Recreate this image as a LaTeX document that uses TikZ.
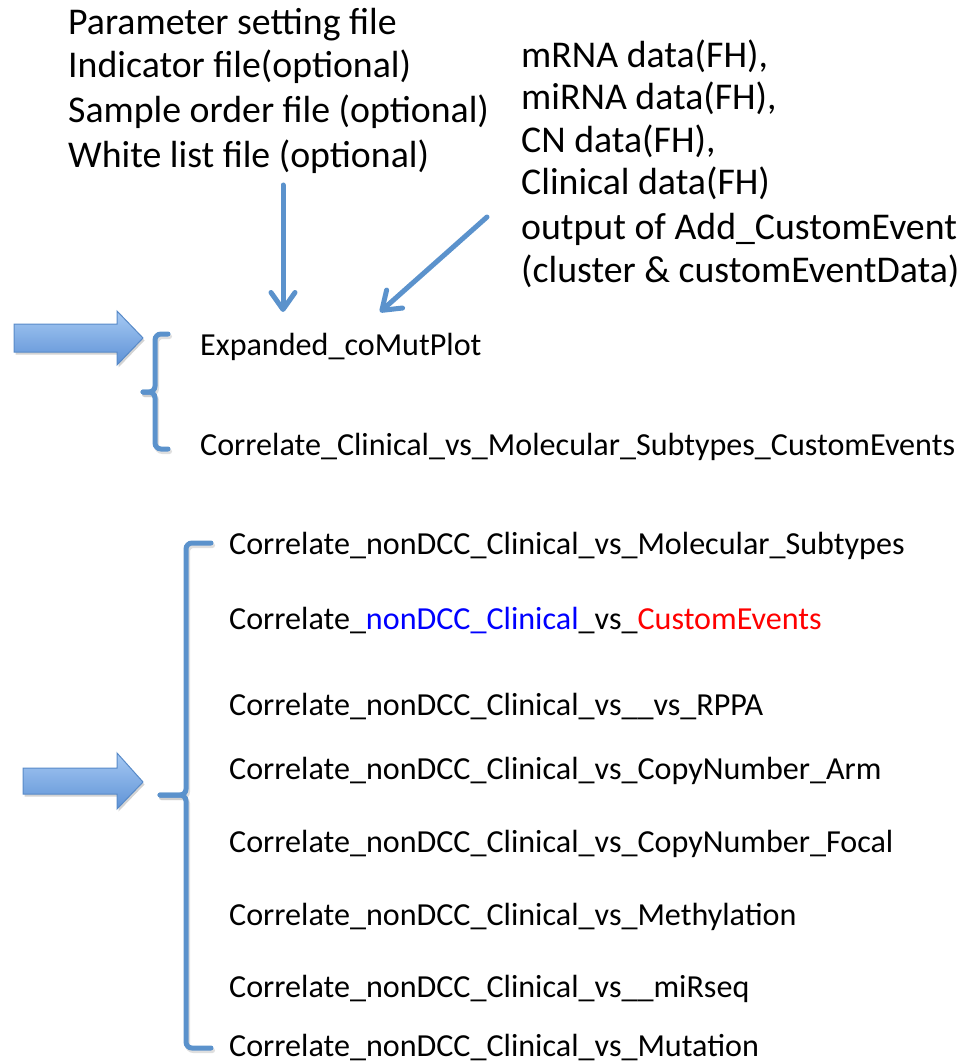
\documentclass[tikz,border=0pt]{standalone}
\usepackage{fontspec}
\setmainfont{Carlito}
\usetikzlibrary{arrows.meta,shadows}
\definecolor{linkblue}{RGB}{91,146,204}
\definecolor{arrowtop}{RGB}{166,201,243}
\definecolor{arrowbot}{RGB}{94,146,214}
\definecolor{arrowedge}{RGB}{88,138,200}
\tikzset{
  bigfont/.style={font=\fontsize{37.8}{45}\selectfont},
  smallfont/.style={font=\fontsize{32.1}{38}\selectfont},
  txt/.style={anchor=base west, inner sep=0pt},
  link/.style={linkblue, line width=5pt, line cap=round, -{Straight Barb[length=17pt,width=24pt,round]}},
  brace/.style={linkblue, line width=5pt, line cap=round, rounded corners=6pt},
  braceshadow/.style={black!25, line width=5pt, line cap=round, rounded corners=6pt, opacity=0.5},
  blockarrow/.style={draw=arrowedge, line width=1pt, top color=arrowtop, bottom color=arrowbot,
    drop shadow={shadow xshift=1.5pt, shadow yshift=-2.5pt, opacity=0.35}}
}
\begin{document}
\begin{tikzpicture}[x=1pt,y=-1pt]
	\useasboundingbox (0,0) rectangle (976,1064);
	% input files
	\node[txt,bigfont] (par) at (68,35) {Parameter setting file};
	\node[txt,bigfont] (ind) at (68,78) {Indicator file(optional)};
	\node[txt,bigfont] (ord) at (68,123) {Sample order file (optional)};
	\node[txt,bigfont] (wl) at (68,168) {White list file (optional)};
	% input data
	\node[txt,bigfont] (mrna) at (521,68) {mRNA data(FH),};
	\node[txt,bigfont] (mir) at (521,110) {miRNA data(FH),};
	\node[txt,bigfont] (cn) at (521,153) {CN data(FH),};
	\node[txt,bigfont] (clin) at (521,195) {Clinical data(FH)};
	\node[txt,bigfont] (out) at (521,240) {output of Add\_CustomEvent};
	\node[txt,bigfont] (clu) at (521,283) {(cluster \& customEventData)};
	% first group
	\node[txt,smallfont] (exp) at (200,355) {Expanded\_coMutPlot};
	\node[txt,smallfont] (ccm) at (200,455) {Correlate\_Clinical\_vs\_Molecular\_Subtypes\_CustomEvents};
	% second group
	\node[txt,smallfont] (n1) at (229,554) {Correlate\_nonDCC\_Clinical\_vs\_Molecular\_Subtypes};
	\node[txt,smallfont] (n2) at (229,629) {Correlate\_\textcolor{blue}{nonDCC\_Clinical}\_vs\_\textcolor{red}{CustomEvents}};
	\node[txt,smallfont] (n3) at (229,715) {Correlate\_nonDCC\_Clinical\_vs\_\_vs\_RPPA};
	\node[txt,smallfont] (n4) at (229,779) {Correlate\_nonDCC\_Clinical\_vs\_CopyNumber\_Arm};
	\node[txt,smallfont] (n5) at (229,852) {Correlate\_nonDCC\_Clinical\_vs\_CopyNumber\_Focal};
	\node[txt,smallfont] (n6) at (229,925) {Correlate\_nonDCC\_Clinical\_vs\_Methylation};
	\node[txt,smallfont] (n7) at (229,997) {Correlate\_nonDCC\_Clinical\_vs\_\_miRseq};
	\node[txt,smallfont] (n8) at (229,1056) {Correlate\_nonDCC\_Clinical\_vs\_Mutation};
	% thin arrows
	\coordinate (filestart) at (283,185);
	\coordinate (fileend) at (283,312);
	\coordinate (datastart) at (487,217);
	\coordinate (dataend) at (380,312);
	\draw[link] (filestart) -- (fileend);
	\draw[link] (datastart) -- (dataend);
	% block arrows
	\draw[blockarrow] (14,324) -- (117,324) -- (117,311) -- (143,338) -- (117,365) -- (117,352) -- (14,352) -- cycle;
	\draw[blockarrow] (23,768) -- (117,768) -- (117,753) -- (143,782) -- (117,809) -- (117,794) -- (23,794) -- cycle;
	% braces
	\draw[braceshadow] (169.5,336.5) -- (156.5,336.5) -- (156.5,394.5) -- (144.5,394.5);
	\draw[braceshadow] (144.5,394.5) -- (156.5,394.5) -- (156.5,451.5) -- (169.5,451.5);
	\draw[brace] (168,334) -- (155,334) -- (155,392) -- (143,392);
	\draw[brace] (143,392) -- (155,392) -- (155,449) -- (168,449);
	\draw[braceshadow] (212.5,545.5) -- (187.5,545.5) -- (187.5,797.5) -- (161.5,797.5);
	\draw[braceshadow] (161.5,797.5) -- (187.5,797.5) -- (187.5,1050.5) -- (212.5,1050.5);
	\draw[brace] (211,543) -- (186,543) -- (186,795) -- (160,795);
	\draw[brace] (160,795) -- (186,795) -- (186,1048) -- (211,1048);
\end{tikzpicture}
\end{document}
